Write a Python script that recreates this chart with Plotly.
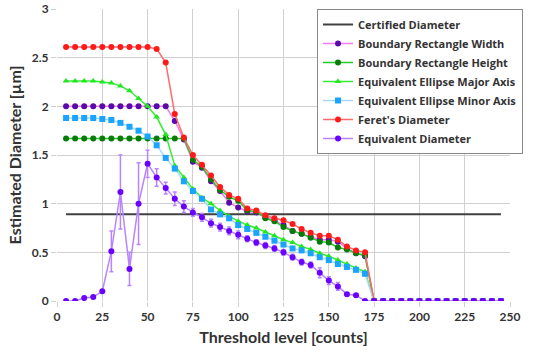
import plotly.graph_objects as go

threshold = list(range(5, 250, 5))
n_tail = len([t for t in threshold if t >= 175])

certified = [0.89] * len(threshold)

brw = [2.0]*12 + [1.85, 1.66, 1.43, 1.37, 1.23, 1.13, 1.01, 0.96, 0.92, 0.91, 0.86, 0.83,
                  0.78, 0.72, 0.69, 0.66, 0.63, 0.63, 0.61, 0.54, 0.49, 0.46] + [0.0]*n_tail

brh = [1.67]*14 + [1.45, 1.38, 1.25, 1.14, 1.07, 1.03, 0.93, 0.92, 0.85, 0.82,
                   0.76, 0.72, 0.69, 0.65, 0.61, 0.60, 0.55, 0.53, 0.49, 0.47] + [0.0]*n_tail

ee_major = [2.26, 2.26, 2.26, 2.26, 2.25, 2.24, 2.21, 2.16, 2.08, 2.0, 1.89, 1.71,
            1.39, 1.27, 1.15, 1.06, 1.0, 0.93, 0.87, 0.82, 0.78, 0.75, 0.71, 0.67,
            0.63, 0.60, 0.56, 0.53, 0.49, 0.46, 0.42, 0.38, 0.34, 0.30] + [0.0]*n_tail

ee_minor = [1.88, 1.88, 1.88, 1.88, 1.87, 1.86, 1.83, 1.79, 1.75, 1.69, 1.60, 1.47,
            1.36, 1.23, 1.13, 1.05, 0.94, 0.89, 0.85, 0.78, 0.74, 0.70, 0.66, 0.62,
            0.58, 0.54, 0.52, 0.49, 0.45, 0.42, 0.38, 0.35, 0.32, 0.28] + [0.0]*n_tail

feret = [2.61]*10 + [2.59, 2.45, 1.92, 1.68, 1.50, 1.40, 1.29, 1.17, 1.09, 1.05,
                     0.95, 0.93, 0.88, 0.85, 0.83, 0.79, 0.74, 0.70, 0.67, 0.67,
                     0.63, 0.56, 0.52, 0.50] + [0.0]*n_tail

eq_diam = [0.0, 0.0, 0.03, 0.04, 0.10, 0.51, 1.12, 0.33, 1.0, 1.41, 1.27, 1.16,
           1.05, 0.97, 0.91, 0.86, 0.80, 0.76, 0.72, 0.68, 0.64, 0.60, 0.57, 0.54,
           0.50, 0.45, 0.40, 0.37, 0.29, 0.21, 0.15, 0.07, 0.06, 0.0] + [0.0]*n_tail

eq_err = [0.0, 0.0, 0.0, 0.0, 0.0, 0.21, 0.38, 0.17, 0.42, 0.14, 0.09, 0.06,
          0.07, 0.06, 0.04, 0.04, 0.04, 0.04, 0.04, 0.04, 0.03, 0.03, 0.03, 0.03,
          0.03, 0.03, 0.03, 0.03, 0.05, 0.04, 0.04, 0.0, 0.0, 0.0] + [0.0]*n_tail

x_ticks = list(range(0, 251, 25))
y_ticks = [0, 0.5, 1, 1.5, 2, 2.5, 3]

fig = go.Figure()

fig.add_trace(go.Scatter(x=threshold, y=certified, name="<b>Certified Diameter</b>",
                         mode="lines", line=dict(color="#404040", width=2)))

def series(name, y, line_color, marker_color, symbol="circle"):
    fig.add_trace(go.Scatter(x=threshold, y=y, name="<b>" + name + "</b>", mode="lines+markers",
                             line=dict(color=line_color, width=1.5),
                             marker=dict(color=marker_color, size=6, symbol=symbol)))

series("Boundary Rectangle Width", brw, "#F07CF0", "#5A0AA8")
series("Boundary Rectangle Height", brh, "#22CC22", "#0A7A0A")
series("Equivalent Ellipse Major Axis", ee_major, "#33F033", "#22E622", "triangle-up")
series("Equivalent Ellipse Minor Axis", ee_minor, "#A8D8FF", "#1AA3FF", "square")
series("Feret's Diameter", feret, "#FF6A6A", "#FF1A1A")

fig.add_trace(go.Scatter(x=threshold, y=eq_diam, name="<b>Equivalent Diameter</b>",
                         mode="lines+markers",
                         line=dict(color="#B884FF", width=1.5),
                         marker=dict(color="#6A00FF", size=6),
                         error_y=dict(type="data", array=eq_err, visible=True,
                                      color="#B884FF", thickness=1.5, width=2)))

font_family = "Lato, 'Liberation Sans', sans-serif"
legend_family = "'Open Sans', Lato, sans-serif"
axis_common = dict(showgrid=True, gridcolor="#D0D0D0", gridwidth=1, zeroline=False,
                   showline=False, ticks="outside", ticklen=5, tickcolor="#D0D0D0",
                   automargin=False,
                   tickfont=dict(family=font_family, size=12, color="#333333"))

fig.update_layout(
    width=546, height=354,
    margin=dict(l=57, r=36, t=9, b=53, autoexpand=False),
    paper_bgcolor="white", plot_bgcolor="white",
    font=dict(family=font_family, color="#333333"),
    showlegend=True,
    legend=dict(x=0.574, y=1.0, xanchor="left", yanchor="top",
                bgcolor="white", bordercolor="#888888", borderwidth=1,
                font=dict(family=legend_family, size=11, color="#333333"),
                tracegroupgap=0, itemwidth=30),
    xaxis=dict(range=[0, 250], tickmode="array", tickvals=x_ticks,
               ticktext=["<b>%d</b>" % v for v in x_ticks],
               title=dict(text="<b>Threshold level [counts]</b>", standoff=8,
                          font=dict(family=font_family, size=16, color="#333333")),
               **axis_common),
    yaxis=dict(range=[0, 3], tickmode="array", tickvals=y_ticks,
               ticktext=["<b>%g</b>" % v for v in y_ticks],
               title=dict(text="<b>Estimated Diameter [µm]</b>", standoff=6,
                          font=dict(family=font_family, size=16, color="#333333")),
               **axis_common),
)

fig.write_html("out.html", config={"displayModeBar": False},
               post_script="document.body.style.margin='0px';")
